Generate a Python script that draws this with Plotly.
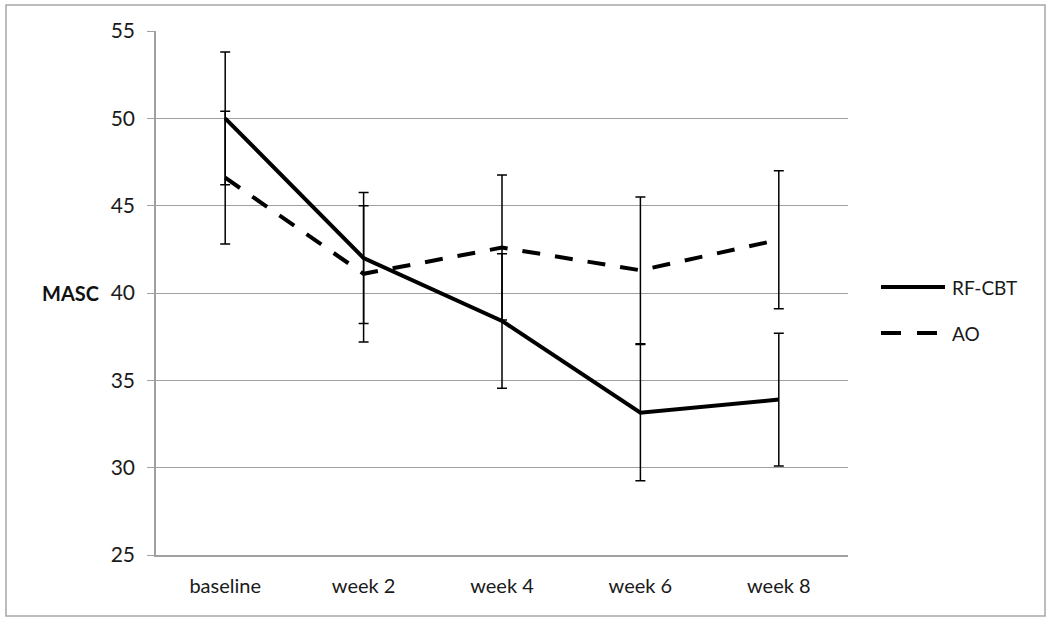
import plotly.graph_objects as go

categories = ["baseline", "week 2", "week 4", "week 6", "week 8"]
rf_cbt = [50.0, 42.0, 38.4, 33.15, 33.9]
rf_cbt_err = [3.8, 3.75, 3.85, 3.9, 3.8]
ao = [46.6, 41.1, 42.6, 41.3, 43.05]
ao_err = [3.8, 3.9, 4.15, 4.2, 3.95]
y_ticks = [25, 30, 35, 40, 45, 50, 55]

W, H = 1050, 621
L, R, T, B = 156, 202, 31, 66
FONT = "Lato"

fig = go.Figure()
fig.add_trace(go.Scatter(
    x=categories, y=ao, name="AO", mode="lines",
    line=dict(color="black", width=4, dash="18px,15px"),
    error_y=dict(type="data", array=ao_err, color="black", thickness=1.5, width=5),
    showlegend=False,
))
fig.add_trace(go.Scatter(
    x=categories, y=rf_cbt, name="RF-CBT", mode="lines",
    line=dict(color="black", width=4),
    error_y=dict(type="data", array=rf_cbt_err, color="black", thickness=1.5, width=5),
    showlegend=False,
))

pw = W - L - R
ph = H - T - B
def px(x):
    return (x - L) / pw
def py(y):
    return (H - B - y) / ph

shapes = [
    # outer chart border
    dict(type="rect", xref="paper", yref="paper", x0=px(6), x1=px(1045), y0=py(616), y1=py(5),
         line=dict(color="#a6a6a6", width=1.5), fillcolor="rgba(0,0,0,0)", layer="below"),
    # legend samples
    dict(type="line", xref="paper", yref="paper", x0=px(881), x1=px(945), y0=py(287), y1=py(287),
         line=dict(color="black", width=4)),
    dict(type="line", xref="paper", yref="paper", x0=px(881), x1=px(937), y0=py(333), y1=py(333),
         line=dict(color="black", width=4, dash="20px,16px")),
]
annotations = [
    dict(text="RF-CBT", xref="paper", yref="paper", x=px(950), y=py(287), xanchor="left",
         yanchor="middle", showarrow=False, font=dict(family=FONT, size=19, color="#1a1a1a")),
    dict(text="AO", xref="paper", yref="paper", x=px(950), y=py(333), xanchor="left",
         yanchor="middle", showarrow=False, font=dict(family=FONT, size=19, color="#1a1a1a")),
    dict(text="<b>MASC</b>", xref="paper", yref="y", x=px(101), y=40, xanchor="right",
         yanchor="middle", showarrow=False, font=dict(family=FONT, size=20, color="#111")),
]

fig.update_layout(
    width=W, height=H,
    margin=dict(l=L, r=R, t=T, b=B, pad=0),
    paper_bgcolor="white", plot_bgcolor="white",
    font=dict(family=FONT, size=20, color="#1a1a1a"),
    shapes=shapes, annotations=annotations,
    xaxis=dict(type="category", range=[-0.5, 4.5], showgrid=False,
               showline=True, linecolor="#a0a0a0", linewidth=1.5,
               ticks="", ticklabelstandoff=12, tickfont=dict(size=20)),
    yaxis=dict(range=[25, 55], tickvals=y_ticks, showgrid=True, gridcolor="#a0a0a0",
               gridwidth=1.3, zeroline=False, showline=True, linecolor="#a0a0a0",
               linewidth=1.5, ticks="outside", ticklen=7, tickcolor="#a0a0a0",
               ticklabelstandoff=8, tickfont=dict(size=21)),
)

fig.write_html("out.html", config={"displayModeBar": False},
               post_script="document.body.style.margin='0';document.body.style.overflow='hidden';")
